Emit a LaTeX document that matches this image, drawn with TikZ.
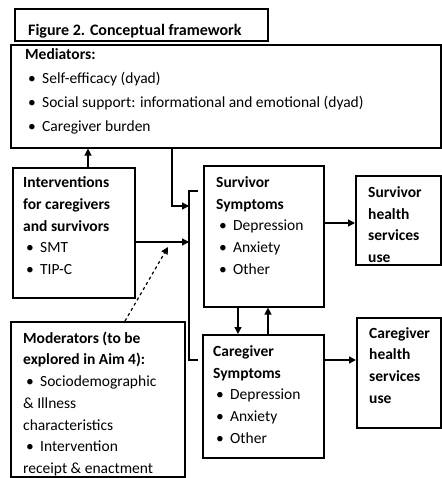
\documentclass[tikz,border=0pt]{standalone}
\usepackage{fontspec}
\setmainfont{Carlito}
\usetikzlibrary{positioning, arrows.meta}
\newcommand{\bul}{\hspace*{3pt}\makebox[14pt][l]{\textbullet}}

\begin{document}
\begin{tikzpicture}[x=1pt, y=-1pt, >={Triangle[length=7pt,width=7pt]}]
	\tikzstyle{blk}=[draw=black, line width=1.6pt, anchor=north west, inner sep=0pt]
	\tikzstyle{txt}=[anchor=north west, inner sep=0pt, align=left, font=\fontsize{15.5}{21.7}\selectfont]
	\tikzstyle{link}=[line width=1.4pt, ->]
	\useasboundingbox (0,0) rectangle (441,478);

	%% boxes
	\node [blk, minimum width=253pt, minimum height=32pt] (Fig) at (14,8) {};
	\node [blk, minimum width=430pt, minimum height=103pt] (Med) at (10,44) {};
	\node [blk, minimum width=122pt, minimum height=130pt] (Int) at (12,167) {};
	\node [blk, minimum width=174pt, minimum height=155pt] (Mod) at (10,321) {};
	\node [blk, minimum width=120pt, minimum height=141pt] (SurS) at (203,165) {};
	\node [blk, minimum width=121pt, minimum height=123pt] (CarS) at (202,334) {};
	\node [blk, minimum width=85pt, minimum height=89pt] (SurH) at (355,175) {};
	\node [blk, minimum width=84pt, minimum height=110pt] (CarH) at (356,317) {};

	%% texts
	\node [txt, anchor=base west, font=\fontsize{16}{20}\selectfont\bfseries] (FigT) at (28,36) {Figure 2. Conceptual framework};
	\node [txt, font=\fontsize{15.5}{24.3}\selectfont] (MedT) at (25,48) {\textbf{Mediators:}\\ \bul Self-efficacy (dyad)\\ \bul Social support: informational and emotional (dyad)\\ \bul Caregiver burden};
	\node [txt] (IntT) at (23,176.5) {\textbf{Interventions}\\ \textbf{for caregivers}\\ \textbf{and survivors}\\ \bul SMT\\ \bul TIP-C};
	\node [txt] (ModT) at (23,331.5) {\textbf{Moderators (to be}\\ \textbf{explored in Aim 4):}\\ \bul Sociodemographic\\ \& Illness\\ characteristics\\ \bul Intervention\\ receipt \& enactment};
	\node [txt] (SurST) at (216,176.5) {\textbf{Survivor}\\ \textbf{Symptoms}\\ \bul Depression\\ \bul Anxiety\\ \bul Other};
	\node [txt] (CarST) at (213,345.5) {\textbf{Caregiver}\\ \textbf{Symptoms}\\ \bul Depression\\ \bul Anxiety\\ \bul Other};
	\node [txt, font=\fontsize{15.5}{21.7}\selectfont\bfseries] (SurHT) at (368,186.5) {Survivor\\ health\\ services\\ use};
	\node [txt, font=\fontsize{15.5}{21.7}\selectfont\bfseries] (CarHT) at (369,327) {Caregiver\\ health\\ services\\ use};

	%% bracket and connectors
	\coordinate (brT) at (189,191);
	\coordinate (brB) at (189,360);
	\coordinate (br1) at (189,206);
	\coordinate (br2) at (189,242);
	\coordinate (br3) at (168,247);
	\coordinate (v0) at (88,0);
	\coordinate (v1) at (238,0);
	\coordinate (v2) at (268,0);
	\coordinate (h1) at (0,223);
	\coordinate (h2) at (0,360);

	\draw [line width=1.4pt] (brT) ++(9,0) -- (brT) -- (brB) -- ++(9,0);
	\draw [link] (Int.north -| v0) -- (Med.south -| v0);
	\draw [link] (Med.south west) ++(162,0) |- (br1);
	\draw [link] (Int.east |- br2) -- (br2);
	\draw [link, dashed, line width=1.2pt] (Mod.north west) ++(115,0) -- (br3);
	\draw [link] (SurS.east |- h1) -- (SurH.west |- h1);
	\draw [link] (CarS.east |- h2) -- (CarH.west |- h2);
	\draw [link] (SurS.south -| v1) -- (CarS.north -| v1);
	\draw [link] (CarS.north -| v2) -- (SurS.south -| v2);
\end{tikzpicture}
\end{document}
